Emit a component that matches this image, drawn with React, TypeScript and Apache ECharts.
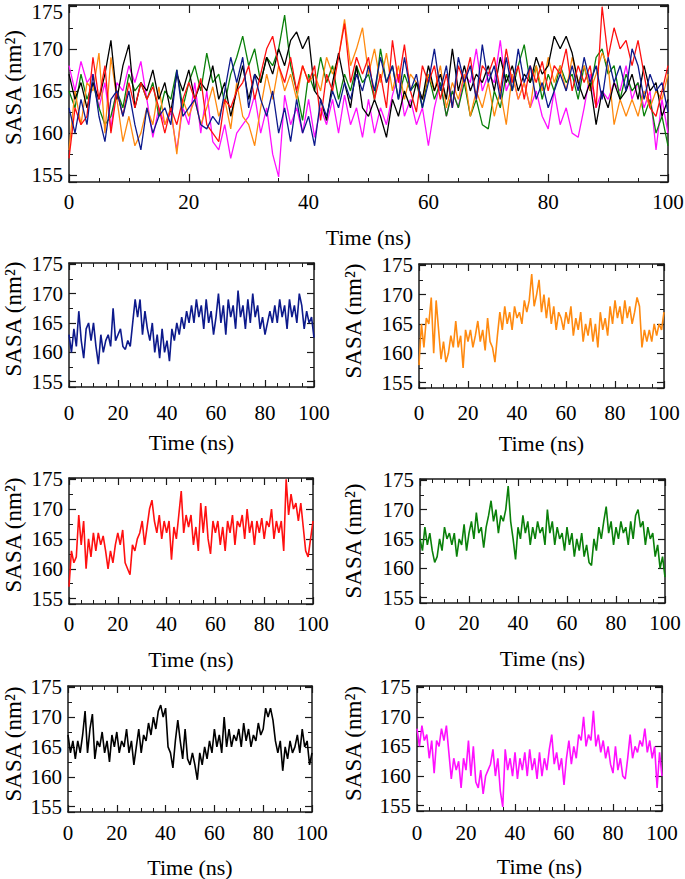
import React, { useEffect, useRef } from 'react';
import * as echarts from 'echarts';

const TIME = [
  0, 1, 2, 3, 4, 5, 6, 7, 8, 9, 10, 11, 12, 13, 14, 15, 16, 17, 18, 19,
  20, 21, 22, 23, 24, 25, 26, 27, 28, 29, 30, 31, 32, 33, 34, 35, 36, 37, 38, 39,
  40, 41, 42, 43, 44, 45, 46, 47, 48, 49, 50, 51, 52, 53, 54, 55, 56, 57, 58, 59,
  60, 61, 62, 63, 64, 65, 66, 67, 68, 69, 70, 71, 72, 73, 74, 75, 76, 77, 78, 79,
  80, 81, 82, 83, 84, 85, 86, 87, 88, 89, 90, 91, 92, 93, 94, 95, 96, 97, 98, 99, 100,
];

const NAVY = [
  163, 160, 164, 161, 167, 162, 159, 164, 165, 162,
  165, 161, 158, 163, 160, 162, 163, 161, 167.5, 162,
  163, 164, 161, 160.5, 162, 161, 165, 169, 166, 169,
  163, 167, 164, 162, 165, 160, 163, 159, 164, 160,
  162, 158.5, 164, 162, 165, 163, 166, 164, 167, 165,
  168, 165, 169, 166, 168, 164, 169, 165, 167, 163,
  166, 170, 165, 168, 163, 169, 166, 168, 164, 170.5,
  166, 168, 164, 169, 165, 170, 166, 168, 164, 166,
  163, 165, 167, 165, 168, 165, 169, 166, 168, 164,
  169, 166, 168, 165, 170, 168, 164, 167, 165, 166,
  162.5,
];

const ORANGE = [
  158, 165, 161, 166, 165, 169.5, 160, 169, 164, 159,
  162, 158.5, 160, 163, 161, 165.5, 161, 163, 157.5, 164,
  162, 164, 161, 163, 165.5, 162, 164, 160.5, 166, 162,
  161, 158.5, 163, 167, 164, 168, 165, 167, 164, 168,
  166, 167, 165, 169, 167, 169, 173.5, 168, 170, 172.5,
  167, 170, 166, 169.5, 165, 168, 164, 167, 166, 164,
  167, 165, 168, 163, 166, 164, 167, 162, 165, 163,
  166, 162, 165, 161, 167, 164, 166, 163, 168, 165,
  169, 166, 168, 165, 169, 166, 168, 165, 167, 169.5,
  168, 161, 164, 162, 164, 162, 165, 163, 165, 164,
  167,
];

const RED = [
  157, 163, 161, 162, 169, 164, 168, 160, 165, 162,
  166, 163, 166, 164, 165.5, 163, 160, 163, 161, 164,
  166, 164, 166.5, 161, 160, 159, 164, 163, 165, 166,
  168, 164, 167, 170, 171.5, 168, 166, 169, 165, 168,
  166, 168, 161.5, 167, 165, 169, 173, 166, 169, 167,
  169, 164, 167, 163, 171, 166, 170.5, 165, 162.5, 168,
  166, 168, 164, 167, 163, 168, 166, 169, 164, 168,
  167, 169, 165, 170, 166, 168, 164, 168, 166, 168.5,
  165, 168, 167, 170, 165, 168, 166, 168, 163, 175,
  169, 172.5, 170, 171, 168, 171, 167, 163, 162, 165,
  168,
];

const GREEN = [
  165, 163, 167, 164, 166, 163, 161, 162, 165, 163,
  167, 165, 166, 164, 166, 162, 165, 164, 167.5, 163,
  166, 168, 165, 169.5, 166, 167, 163.5, 167, 169, 171.5,
  168, 170, 166, 169, 168, 170, 174, 168, 165, 161.5,
  167, 165, 169, 166, 168, 164, 167, 165, 168, 166,
  167, 164, 170, 166, 168, 164, 167, 165, 166, 163,
  167, 164, 166, 162, 165, 163, 166, 162, 164, 161,
  160.5, 165, 163, 167, 165, 168, 170.5, 166, 168, 164,
  167, 165, 168, 166, 167, 164, 168, 165, 169, 170,
  167, 168, 164, 167, 165, 166, 162, 164, 160, 162,
  158.5,
];

const BLACK = [
  167, 164, 166, 163, 166, 164, 167, 171, 164, 168,
  170.5, 163, 166, 165, 167.5, 164, 166, 162.5, 167, 165,
  167.5, 164, 166, 165, 168, 164, 166, 162, 165, 168,
  164, 167, 166, 169, 167, 170, 168, 171, 172, 170,
  171.5, 165, 164, 161.5, 166, 169.5, 166, 163, 168, 163,
  162, 164, 162, 159.5, 164, 162, 165, 163, 166, 164,
  168, 165, 167, 164, 170, 165, 168, 165, 167, 166,
  168, 165, 169, 166, 168, 165, 167, 166, 169, 167,
  168, 171.5, 170, 171.5, 169.5, 166, 164, 166, 161, 165,
  163, 166, 164, 165, 167, 164, 168, 165, 166, 162,
  164,
];

const MAGENTA = [
  168, 165, 168.5, 166, 167, 163, 166, 160.5, 166, 165,
  168, 166, 168.5, 164, 159.5, 163, 161, 162.5, 158, 163,
  161, 166, 160, 165, 159, 158, 161, 157, 160, 161,
  162, 164.5, 160, 163, 157.5, 154.8, 164.5, 161, 163, 160,
  164, 159.5, 163, 161, 164, 160, 164.5, 161, 163, 159.5,
  164, 160, 163, 161, 164.5, 167, 162, 164, 161, 163,
  158.5, 163, 166, 162, 165, 163, 167, 166, 170, 165,
  167, 166, 171, 165, 167, 164, 166, 163, 165, 162,
  160.5, 165, 161, 163, 160, 159.5, 163, 167, 163, 165,
  164, 166, 165, 168, 164, 166, 163, 165, 158, 164,
  160,
];

const X_TICK_LABELS = [0, 20, 40, 60, 80, 100];
const Y_TICK_LABELS = [155, 160, 165, 170, 175];
const X_NAME = 'Time (ns)';
const Y_NAME = 'SASA (nm²)';

const X_MIN = 0;
const X_MAX = 100;
const X_INTERVAL = 20;

const COLORS = {
  navy: '#0d1a8c',
  orange: '#ff8a10',
  red: '#ff1010',
  green: '#0a800a',
  black: '#000000',
  magenta: '#ff10ff',
};

const FONT = 'serif';
const FRAME = '#1a1a1a';

type Panel = {
  rect: [number, number, number, number];
  ymin: number;
  ymax: number;
  xLabelOffset: number;
  yNameDist: number;
  yNameShift: number;
  major: number;
  minor: number;
  lineWidth: number;
  series: { data: number[]; color: string }[];
};

function pairs(vals: number[]) {
  return TIME.map((t, i) => [t, vals[i]]);
}

export default function App() {
  const ref = useRef<HTMLDivElement>(null);

  useEffect(() => {
    if (!ref.current) return;
    const chart = echarts.init(ref.current, null, { renderer: 'svg' });

    const panels: Panel[] = [
      {
        rect: [69, 5, 599, 177], ymin: 154.2, ymax: 175.2, xLabelOffset: 20, yNameDist: 56, yNameShift: -6,
        major: 8, minor: 4, lineWidth: 1.3,
        series: [
          { data: MAGENTA, color: COLORS.magenta },
          { data: GREEN, color: COLORS.green },
          { data: ORANGE, color: COLORS.orange },
          { data: BLACK, color: COLORS.black },
          { data: RED, color: COLORS.red },
          { data: NAVY, color: COLORS.navy },
        ],
      },
      { rect: [69, 263, 245, 124], ymin: 154.1, ymax: 175.2, xLabelOffset: 26, yNameDist: 56, yNameShift: -6, major: 7, minor: 4, lineWidth: 1.6, series: [{ data: NAVY, color: COLORS.navy }] },
      { rect: [419, 264, 245, 124], ymin: 154.1, ymax: 175.2, xLabelOffset: 25, yNameDist: 66, yNameShift: -5, major: 7, minor: 4, lineWidth: 1.6, series: [{ data: ORANGE, color: COLORS.orange }] },
      { rect: [69, 478, 244, 126], ymin: 154.1, ymax: 175.2, xLabelOffset: 20, yNameDist: 56, yNameShift: -6, major: 7, minor: 4, lineWidth: 1.6, series: [{ data: RED, color: COLORS.red }] },
      { rect: [420, 479, 245, 124], ymin: 154.1, ymax: 175.2, xLabelOffset: 20, yNameDist: 67, yNameShift: 0, major: 7, minor: 4, lineWidth: 1.6, series: [{ data: GREEN, color: COLORS.green }] },
      { rect: [68, 686, 244, 126], ymin: 154.1, ymax: 175.2, xLabelOffset: 21, yNameDist: 55, yNameShift: -5, major: 7, minor: 4, lineWidth: 1.6, series: [{ data: BLACK, color: COLORS.black }] },
      { rect: [417, 686, 245, 125], ymin: 154.1, ymax: 175.2, xLabelOffset: 22, yNameDist: 64, yNameShift: -5, major: 7, minor: 4, lineWidth: 1.6, series: [{ data: MAGENTA, color: COLORS.magenta }] },
    ];

    const grids: any[] = [];
    const xAxes: any[] = [];
    const yAxes: any[] = [];
    const series: any[] = [];

    panels.forEach((p, i) => {
      const [left, top, width, height] = p.rect;
      grids.push({ left, top, width, height, containLabel: false });
      const line = { show: true, onZero: false, lineStyle: { color: FRAME, width: 1.5 } };
      const tick = { show: true, inside: true, length: p.major, lineStyle: { color: FRAME, width: 1.2 } };
      const xMinor = { show: true, splitNumber: 4, length: p.minor, lineStyle: { color: FRAME, width: 1 } };
      const yMinor = { show: true, splitNumber: 2, length: p.minor, lineStyle: { color: FRAME, width: 1 } };
      const xBase = {
        gridIndex: i, type: 'value', min: X_MIN, max: X_MAX, interval: X_INTERVAL,
        axisLine: line, axisTick: tick, minorTick: xMinor, axisLabel: { show: false },
        splitLine: { show: false }, minorSplitLine: { show: false },
      };
      xAxes.push({ ...xBase, position: 'bottom' });
      xAxes.push({ ...xBase, position: 'top' });
      const yBase = {
        gridIndex: i, type: 'value', min: p.ymin, max: p.ymax,
        axisLine: line, axisTick: tick, minorTick: yMinor, axisLabel: { show: false },
        splitLine: { show: false }, minorSplitLine: { show: false },
      };
      yAxes.push({ ...yBase, position: 'left' });
      yAxes.push({ ...yBase, position: 'right' });
      p.series.forEach((s) => {
        series.push({
          type: 'line',
          xAxisIndex: 2 * i,
          yAxisIndex: 2 * i,
          data: pairs(s.data),
          showSymbol: false,
          symbol: 'none',
          clip: true,
          lineStyle: { color: s.color, width: p.lineWidth },
          itemStyle: { color: s.color },
        });
      });
    });

    chart.setOption({
      animation: false,
      backgroundColor: '#ffffff',
      textStyle: { fontFamily: FONT },
      grid: grids,
      xAxis: xAxes,
      yAxis: yAxes,
      series,
    });

    // Axis texts drawn as graphic text, positioned through the axes' own scales.
    const texts: any[] = [];
    const txt = (text: string, x: number, y: number, size: number, align: string, rotation = 0) => ({
      type: 'text', x, y, rotation, silent: true,
      style: {
        text, font: size + 'px ' + FONT, fontFamily: FONT, fontSize: size,
        fill: '#000', align, verticalAlign: 'middle',
      },
    });
    panels.forEach((p, i) => {
      const xi = 2 * i;
      const left = chart.convertToPixel({ xAxisIndex: xi }, X_MIN) as number;
      const right = chart.convertToPixel({ xAxisIndex: xi }, X_MAX) as number;
      const bottom = chart.convertToPixel({ yAxisIndex: xi }, p.ymin) as number;
      const top = chart.convertToPixel({ yAxisIndex: xi }, p.ymax) as number;
      X_TICK_LABELS.forEach((v) => {
        const px = chart.convertToPixel({ xAxisIndex: xi }, v) as number;
        texts.push(txt(String(v), px, bottom + p.xLabelOffset, 21, 'center'));
      });
      Y_TICK_LABELS.forEach((v) => {
        const py = chart.convertToPixel({ yAxisIndex: xi }, v) as number;
        texts.push(txt(String(v), left - 6, Math.max(py, 12), 21, 'right'));
      });
      texts.push(txt(X_NAME, (left + right) / 2, bottom + 55, 22, 'center'));
      texts.push(txt(Y_NAME, left - p.yNameDist, (top + bottom) / 2 + p.yNameShift, 23, 'center', Math.PI / 2));
    });
    chart.setOption({ graphic: { elements: texts } });

    return () => chart.dispose();
  }, []);

  return (
    <div
      ref={ref}
      style={{ position: 'absolute', left: 0, top: 0, width: 685, height: 879 }}
    />
  );
}
